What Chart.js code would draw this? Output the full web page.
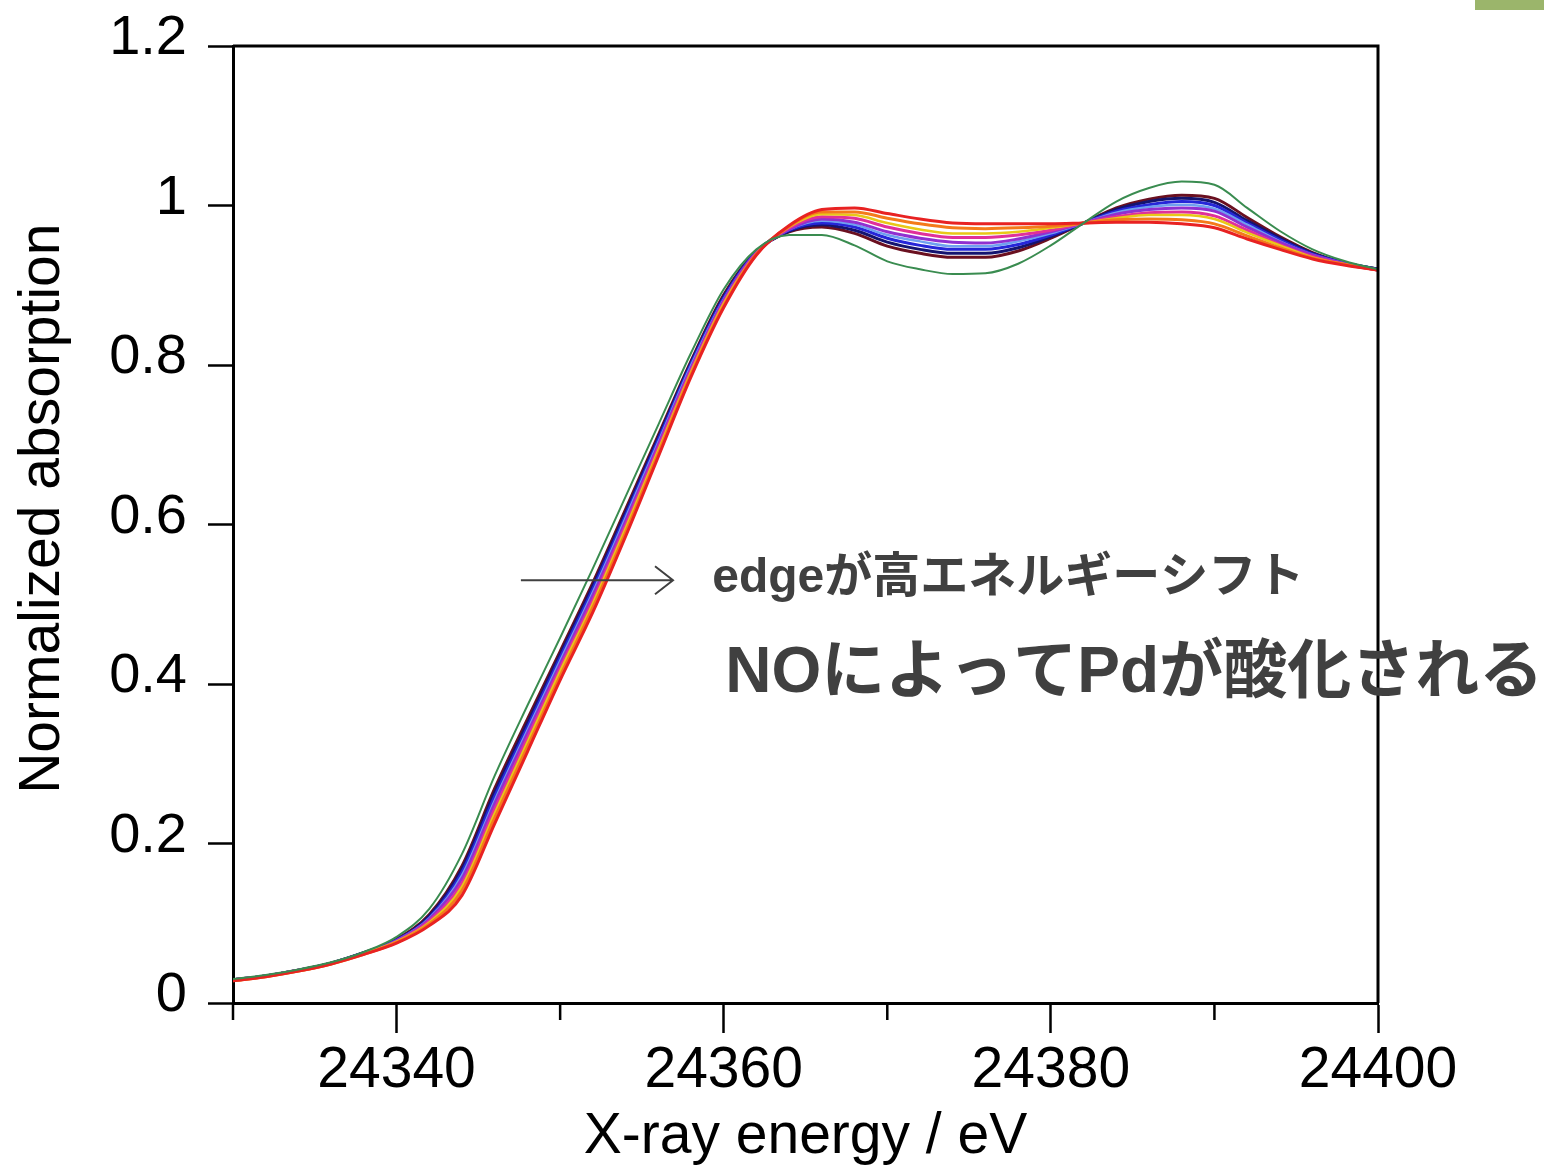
<!DOCTYPE html>
<html>
<head>
<meta charset="utf-8">
<script src="https://cdn.jsdelivr.net/npm/chart.js@4.4.1/dist/chart.umd.min.js"></script>
<style>
  html, body { margin: 0; padding: 0; background: #fff; }
  #wrap { position: relative; width: 1544px; height: 1166px; }
  #tab { position: absolute; left: 1475px; top: 0; width: 69px; height: 10px; background: #9bb56b; }
</style>
</head>
<body>
<div id="wrap">
  <canvas id="xanesChart" width="1544" height="1166"></canvas>
  <div id="tab"></div>
</div>
<script>
// X-ray energy (eV)
const energies = [24330, 24332, 24334, 24336, 24338, 24340, 24342, 24344, 24346, 24348, 24350, 24352,
  24354, 24356, 24358, 24360, 24362, 24364, 24366, 24368, 24370, 24372, 24374, 24376,
  24378, 24380, 24382, 24384, 24386, 24388, 24390, 24392, 24394, 24396, 24398, 24400];

// normalized absorption, one list per spectrum
const greenSpec = [.030, .035, .042, .051, .064, .083, .118, .187, .285, .373, .458, .545, .635, .725, .815, .895, .945, .963, .963, .950, .930, .920, .914, .915, .927, .950, .978, 1.005, 1.022, 1.030, 1.026, .997, .968, .945, .930, .920];
const maroonSpec = [.029, .034, .041, .050, .063, .080, .111, .172, .269, .356, .441, .527, .619, .712, .805, .888, .943, .967, .973, .965, .949, .940, .935, .935, .943, .959, .978, .997, 1.008, 1.013, 1.009, .985, .961, .941, .928, .920];
const navySpec = [.029, .034, .041, .050, .063, .079, .109, .168, .264, .351, .437, .523, .615, .709, .803, .886, .942, .968, .976, .969, .954, .945, .940, .940, .947, .961, .978, .995, 1.005, 1.009, 1.004, .981, .959, .940, .928, .920];
const blueSpec = [.029, .034, .041, .050, .063, .079, .107, .164, .259, .346, .433, .519, .611, .706, .801, .884, .942, .969, .978, .973, .959, .950, .945, .945, .951, .963, .978, .993, 1.001, 1.005, 1.000, .978, .957, .939, .928, .920];
const skySpec = [.029, .034, .041, .050, .062, .078, .106, .160, .254, .342, .429, .515, .608, .703, .799, .882, .941, .970, .981, .976, .963, .955, .949, .949, .955, .965, .978, .991, .998, 1.001, .996, .976, .955, .938, .927, .919];
const purpleSpec = [.029, .034, .041, .050, .062, .078, .105, .156, .250, .338, .425, .511, .604, .700, .796, .881, .941, .970, .983, .979, .967, .959, .954, .953, .958, .967, .978, .989, .995, .997, .993, .973, .954, .938, .927, .919];
const magentaSpec = [.029, .034, .041, .050, .062, .077, .103, .150, .243, .332, .420, .505, .599, .696, .793, .878, .940, .972, .986, .984, .973, .965, .960, .960, .963, .969, .978, .986, .991, .992, .987, .969, .951, .936, .926, .919];
const yellowSpec = [.028, .033, .040, .049, .062, .077, .101, .146, .238, .327, .416, .501, .595, .693, .791, .877, .939, .973, .989, .988, .978, .970, .965, .965, .967, .972, .978, .984, .988, .988, .983, .966, .950, .935, .926, .919];
const orangeSpec = [.028, .033, .040, .049, .061, .076, .099, .141, .232, .321, .410, .496, .590, .689, .788, .874, .939, .974, .992, .992, .984, .977, .972, .971, .972, .974, .978, .982, .983, .982, .977, .962, .947, .934, .926, .919];
const redSpec = [.028, .033, .040, .049, .061, .075, .097, .135, .225, .315, .405, .490, .585, .685, .785, .872, .938, .975, .995, .997, .990, .983, .978, .977, .977, .977, .978, .979, .979, .977, .972, .958, .945, .933, .925, .919];

const majorTicks = [24340, 24360, 24380, 24400];
const minorTicks = [24330, 24350, 24370, 24390];

const spectra = [
  { data: greenSpec, color: '#3a8c50', width: 2 },
  { data: redSpec, color: '#e82222', width: 3 },
  { data: orangeSpec, color: '#f47a1a', width: 3 },
  { data: yellowSpec, color: '#e8c818', width: 2.5 },
  { data: magentaSpec, color: '#e0309a', width: 3 },
  { data: purpleSpec, color: '#9030d0', width: 3 },
  { data: skySpec, color: '#6fa0f0', width: 2.5 },
  { data: blueSpec, color: '#2626d8', width: 3 },
  { data: navySpec, color: '#141470', width: 3 },
  { data: maroonSpec, color: '#6a1020', width: 3 }
];

const datasets = spectra.map(s => ({
  data: energies.map((e, i) => ({ x: e, y: s.data[i] })),
  borderColor: s.color,
  borderWidth: s.width,
  pointRadius: 0,
  fill: false,
  cubicInterpolationMode: 'monotone'
}));

const fontFam = '"Liberation Sans", Arial, sans-serif';

// top/right frame, short minor ticks, arrow and notes
const extras = {
  id: 'extras',
  afterDraw(chart) {
    const { ctx, chartArea: a, scales: { x, y } } = chart;
    ctx.save();
    ctx.strokeStyle = '#000';
    ctx.lineWidth = 3;
    ctx.beginPath();
    ctx.moveTo(a.left, a.top);
    ctx.lineTo(a.right, a.top);
    ctx.lineTo(a.right, a.bottom);
    ctx.stroke();

    ctx.lineWidth = 2.5;
    ctx.beginPath();
    minorTicks.forEach(v => {
      const px = x.getPixelForValue(v);
      ctx.moveTo(px, a.bottom);
      ctx.lineTo(px, a.bottom + 17);
    });
    ctx.stroke();

    // arrow
    const ay = y.getPixelForValue(0.53);
    const ax0 = x.getPixelForValue(24347.6);
    const ax1 = x.getPixelForValue(24356.9);
    ctx.strokeStyle = '#404040';
    ctx.lineWidth = 2;
    ctx.beginPath();
    ctx.moveTo(ax0, ay);
    ctx.lineTo(ax1, ay);
    ctx.moveTo(ax1 - 18, ay - 14);
    ctx.lineTo(ax1, ay);
    ctx.lineTo(ax1 - 18, ay + 14);
    ctx.stroke();

    ctx.fillStyle = '#404040';
    ctx.textBaseline = 'alphabetic';
    ctx.textAlign = 'left';
    ctx.font = 'bold 48px "Liberation Sans", "Noto Sans CJK JP", sans-serif';
    ctx.fillText('edgeが高エネルギーシフト', x.getPixelForValue(24359.3), y.getPixelForValue(0.515));
    ctx.font = 'bold 64px "Liberation Sans", "Noto Sans CJK JP", sans-serif';
    ctx.fillText('NOによってPdが酸化される', x.getPixelForValue(24360.1), y.getPixelForValue(0.39));
    ctx.restore();
  }
};

new Chart(document.getElementById('xanesChart'), {
  type: 'line',
  data: { datasets: datasets },
  options: {
    responsive: false,
    animation: false,
    layout: { padding: { left: 0, right: 166, top: 46, bottom: 0 } },
    plugins: { legend: { display: false }, tooltip: { enabled: false } },
    scales: {
      x: {
        type: 'linear',
        min: 24330,
        max: 24400,
        afterBuildTicks(scale) { scale.ticks = majorTicks.map(v => ({ value: v })); },
        afterFit(scale) { scale.height = 163; },
        ticks: { color: '#000', font: { family: fontFam, size: 57 }, padding: 4, maxRotation: 0,
          callback: v => String(v) },
        grid: { drawOnChartArea: false, tickLength: 30, tickWidth: 2.5, tickColor: '#000' },
        border: { color: '#000', width: 3 },
        title: { display: true, text: 'X-ray energy / eV', color: '#000', font: { family: fontFam, size: 57, lineHeight: 1 }, padding: 0 }
      },
      y: {
        min: 0,
        max: 1.2,
        afterFit(scale) { scale.width = 233; scale.paddingTop = 0; scale.paddingBottom = 0; },
        ticks: { stepSize: 0.2, color: '#000', font: { family: fontFam, size: 56 }, padding: 21, labelOffset: -7,
          callback: v => String(+v.toFixed(1)) },
        grid: { drawOnChartArea: false, tickLength: 25, tickWidth: 2.5, tickColor: '#000' },
        border: { color: '#000', width: 3 },
        title: { display: true, text: '  Normalized absorption', color: '#000', font: { family: fontFam, size: 57, lineHeight: 1 }, padding: { top: 15, bottom: 0 } }
      }
    }
  },
  plugins: [extras]
});
</script>
</body>
</html>
